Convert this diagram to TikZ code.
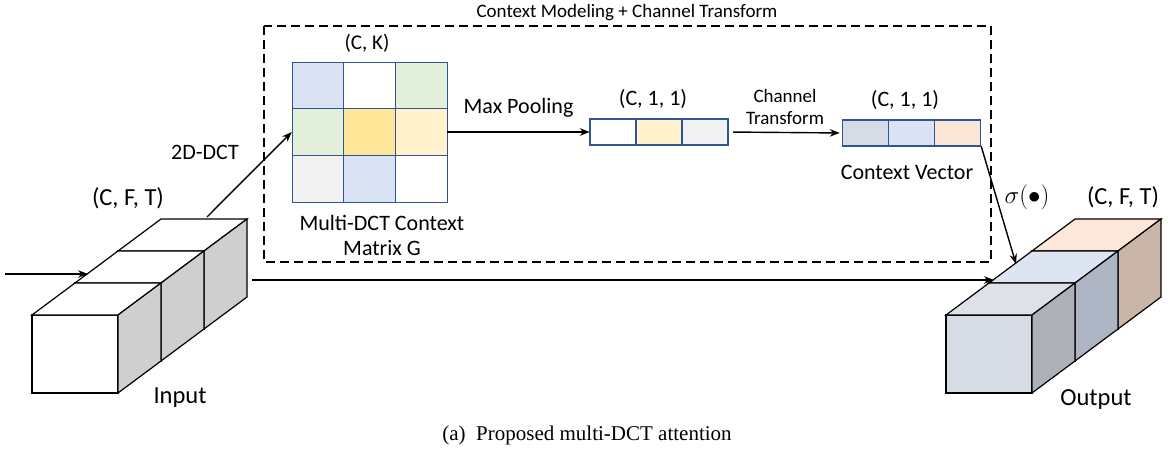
\documentclass[tikz,border=0pt]{standalone}
\usepackage{fontspec}
\setmainfont{Carlito}
\newfontfamily\capfont{Liberation Serif}
\usepackage{amsmath}
\usetikzlibrary{arrows.meta}

\definecolor{cellblue}{HTML}{DAE3F3}
\definecolor{cellgreen}{HTML}{E2EFDA}
\definecolor{cellgold}{HTML}{FFE699}
\definecolor{cellyellow}{HTML}{FFF2CC}
\definecolor{cellgray}{HTML}{F2F2F2}
\definecolor{cellslate}{HTML}{D6DCE5}
\definecolor{cellpeach}{HTML}{FBE5D6}
\definecolor{celledge}{HTML}{2F5597}
\definecolor{outfront}{HTML}{D6DCE4}
\definecolor{outtopa}{HTML}{DEE2E8}
\definecolor{outsidea}{HTML}{ADB0B6}
\definecolor{outtopb}{HTML}{DDE5F3}
\definecolor{outsideb}{HTML}{ADB5C4}
\definecolor{outtopc}{HTML}{FCE7DA}
\definecolor{outsidec}{HTML}{C9B6A8}

% one cube: lower left corner of front face, then front, top, side colours
\newcommand{\drawcube}[5]{%
  \filldraw[fill=#3] (#1,#2) rectangle ++(86,-78);
  \filldraw[fill=#4] (#1,#2-78) -- ++(86,0) -- ++(43,-32) -- ++(-86,0) -- cycle;
  \filldraw[fill=#5] (#1+86,#2) -- ++(0,-78) -- ++(43,-32) -- ++(0,78) -- cycle;
}

\begin{document}
\begin{tikzpicture}[x=1pt,y=-1pt,
    font=\fontsize{22}{25}\selectfont,
    cell/.style={draw=celledge,line width=1pt,minimum width=51.7,minimum height=46.7,inner sep=0pt},
    vcell/.style={draw=celledge,line width=1.2pt,minimum width=46,minimum height=26,inner sep=0pt},
    conn/.style={-{Stealth[length=10pt,width=7.5pt]},line width=1.4pt},
    lbl/.style={inner sep=0pt},
    big/.style={font=\fontsize{24.5}{28}\selectfont}]
  \useasboundingbox (0,0) rectangle (1168,455);

  % context modeling box
  \draw[dashed,dash pattern=on 9pt off 5pt,line width=1.1pt] (264,26) rectangle (991,262);
  \node[lbl,font=\fontsize{19}{22}\selectfont] (title) at (627,13) {Context Modeling + Channel Transform};

  % input feature cubes
  \begin{scope}[line width=1.2pt]
    \foreach \k in {2,1,0}{
      \drawcube{32+43*\k}{393-32*\k}{white}{white}{black!19}
    }
  \end{scope}
  \node[lbl,big] (inshape) at (128,198) {(C, F, T)};
  \node[lbl,big] (inlbl) at (180,398) {Input};

  % output feature cubes
  \begin{scope}[line width=1.2pt]
    \drawcube{1032}{329}{cellpeach}{outtopc}{outsidec}
    \drawcube{989}{361}{cellblue}{outtopb}{outsideb}
    \drawcube{946}{393}{outfront}{outtopa}{outsidea}
  \end{scope}
  \node[lbl,big] (outshape) at (1123,197) {(C, F, T)};
  \node[lbl,big] (outlbl) at (1096,400) {Output};

  % context matrix G
  \foreach \r/\c/\col in {1/1/cellblue,1/2/white,1/3/cellgreen,
                          2/1/cellgreen,2/2/cellgold,2/3/cellyellow,
                          3/1/cellgray,3/2/cellblue,3/3/white}
    \node[cell,fill=\col] (g-\r-\c) at ({292+51.7*(\c-0.5)},{62+46.7*(\r-0.5)}) {};
  \node[inner sep=0pt,minimum width=155,minimum height=140] (G) at (369.5,132) {};
  \node[lbl,font=\fontsize{21}{24}\selectfont] (gshape) at (367,43) {(C, K)};
  \node[lbl,align=center] (glbl) at (382,235) {Multi-DCT Context\\Matrix G};

  % pooled vector
  \foreach \i/\col in {1/white,2/cellyellow,3/cellgray}
    \node[vcell,fill=\col] (p-\i) at ({590+46*(\i-0.5)},132) {};
  \node[inner sep=0pt,minimum width=138,minimum height=26] (pool) at (659,132) {};
  \node[lbl] (poolshape) at (653,99) {(C, 1, 1)};

  % context vector
  \foreach \i/\col in {1/cellslate,2/cellblue,3/cellpeach}
    \node[vcell,fill=\col] (v-\i) at ({842+46.3*(\i-0.5)},133) {};
  \node[inner sep=0pt,minimum width=139,minimum height=26] (ctx) at (911.5,133) {};
  \node[lbl] (ctxshape) at (905,100) {(C, 1, 1)};
  \node[lbl] (ctxlbl) at (907,172) {Context Vector};

  % connectors
  \coordinate (src) at (5,274);
  \coordinate (inTop) at (88,274);
  \coordinate (inBack) at (207,217);
  \coordinate (inSide) at (252,280);
  \coordinate (outFront) at (994,280);
  \coordinate (outTop) at (1016,264);
  \draw[conn] (src) -- (inTop);
  \draw[conn] (inSide) -- (outFront);
  \draw[conn] (inBack) -- (G.west);
  \node[lbl] (dct) at (205,152) {2D-DCT};
  \draw[conn] (G.east) -- node[lbl,above=14pt] (maxlbl) {Max Pooling} (pool.west);
  \draw[conn,shorten <=5pt,shorten >=2pt] (pool.east) -- node[lbl,above=7pt,align=center,font=\fontsize{19}{22}\selectfont] (chlbl) {Channel\\Transform} (ctx.west);
  \draw[conn] (ctx.south east) -- (outTop);
  \node[lbl,font=\fontsize{25}{28}\selectfont] (sigma) at (1027,197) {$\sigma(\bullet)$};

  % caption
  \node[lbl,font=\capfont\fontsize{21}{24}\selectfont] (cap) at (587,435) {(a)\enspace Proposed multi-DCT attention};
\end{tikzpicture}
\end{document}
